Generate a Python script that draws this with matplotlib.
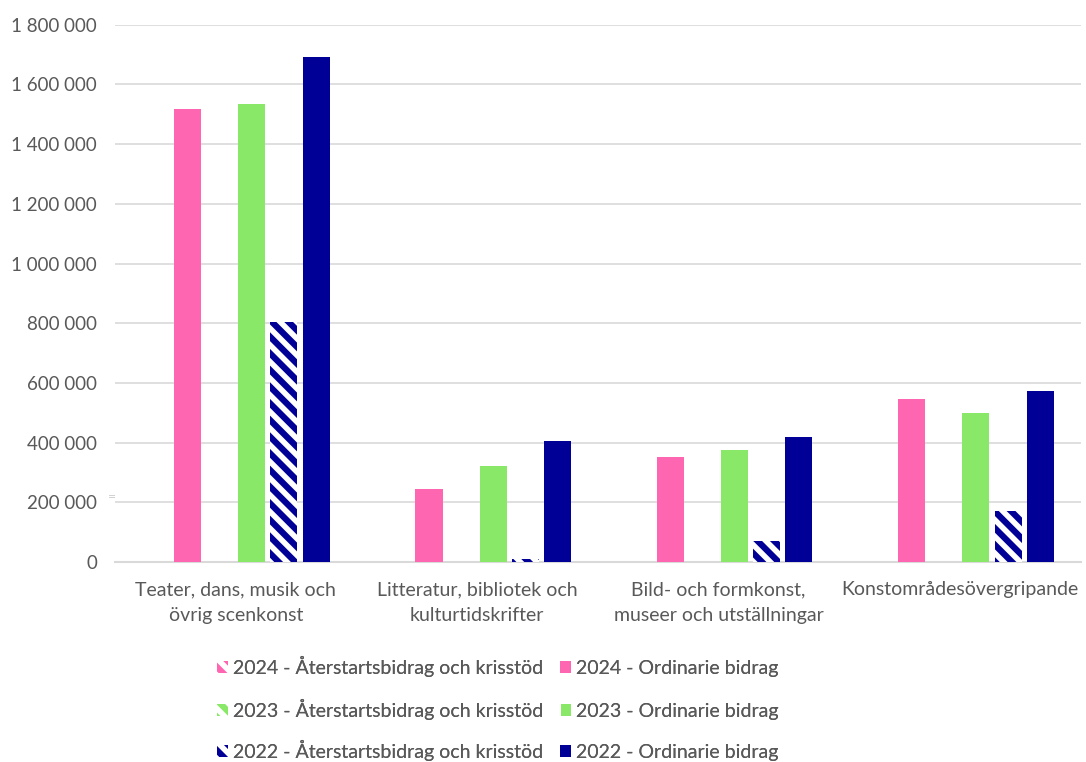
import matplotlib.pyplot as plt
import numpy as np

plt.rcParams['font.family'] = ['Lato', 'DejaVu Sans']
plt.rcParams['hatch.linewidth'] = 4.5

categories = ['Teater, dans, musik och\növrig scenkonst',
              'Litteratur, bibliotek och\nkulturtidskrifter',
              'Bild- och formkonst,\nmuseer och utställningar',
              'Konstområdesövergripande']

aterstart_2024 = [0, 0, 0, 0]
ordinarie_2024 = [1518000, 245000, 352000, 546000]
aterstart_2023 = [0, 0, 0, 0]
ordinarie_2023 = [1534000, 322000, 375000, 499000]
aterstart_2022 = [805000, 10000, 70000, 171000]
ordinarie_2022 = [1692000, 405000, 419000, 573000]

pink = '#FF66B2'
green = '#8AE868'
navy = '#000096'
grey = '#595959'

series = [
    (aterstart_2024, '2024 - Återstartsbidrag och krisstöd', pink, True),
    (ordinarie_2024, '2024 - Ordinarie bidrag', pink, False),
    (aterstart_2023, '2023 - Återstartsbidrag och krisstöd', green, True),
    (ordinarie_2023, '2023 - Ordinarie bidrag', green, False),
    (aterstart_2022, '2022 - Återstartsbidrag och krisstöd', navy, True),
    (ordinarie_2022, '2022 - Ordinarie bidrag', navy, False),
]

fig = plt.figure(figsize=(10.86, 7.62), dpi=100)
ax = fig.add_axes([0.106, 0.2625, 0.889, 0.705])

x = np.arange(len(categories))
slot = 0.133
bar_w = 0.112
handles = []
for i, (vals, label, col, hatched) in enumerate(series):
    pos = x + (i - 2.5) * slot
    if hatched:
        b = ax.bar(pos, vals, width=bar_w, color='white', edgecolor=col,
                   hatch='\\\\', linewidth=0, label=label, zorder=3)
    else:
        b = ax.bar(pos, vals, width=bar_w, color=col, label=label, zorder=3)
    handles.append(b)

ax.set_ylim(0, 1800000)
ax.set_xlim(-0.5, 3.5)
ax.set_yticks(np.arange(0, 1800001, 200000))
ax.set_yticklabels([f'{v:,}'.replace(',', ' ') for v in range(0, 1800001, 200000)])
ax.set_xticks(x)
ax.set_xticklabels(categories, linespacing=1.6)
ax.tick_params(axis='both', length=0, labelsize=14, colors=grey)
ax.tick_params(axis='y', labelsize=13.5, pad=13)
ax.tick_params(axis='x', pad=14)
ax.yaxis.grid(True, color='#D9D9D9', linewidth=1.2, zorder=0)
for s in ['top', 'right', 'left']:
    ax.spines[s].set_visible(False)
ax.spines['bottom'].set_color('#D9D9D9')
ax.spines['bottom'].set_linewidth(1.5)

fig.text(0.103, 0.348, '=', color='#D0D0D0', fontsize=10, ha='center', va='center')

# one legend per row so both columns share a baseline
row_y = [666, 709, 750]
for r in range(3):
    lg = fig.legend(handles[2 * r:2 * r + 2], [series[2 * r][1], series[2 * r + 1][1]],
                    ncol=2, loc='center left',
                    bbox_to_anchor=(0.2, 1 - row_y[r] / 762),
                    frameon=False, fontsize=14, borderpad=0, borderaxespad=0,
                    handlelength=0.55, handleheight=0.55, handletextpad=0.25,
                    columnspacing=0.9, labelcolor=grey)
    fig.add_artist(lg)

fig.savefig('out.png', dpi=100)
